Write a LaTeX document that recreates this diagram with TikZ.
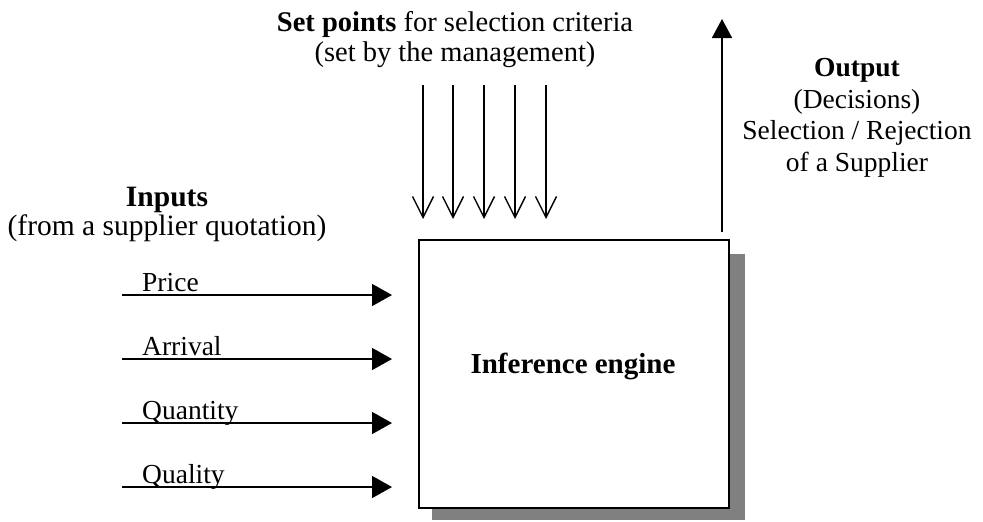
\documentclass[tikz,border=0pt]{standalone}
\usepackage{fontspec}
\setmainfont{Liberation Serif}
\usetikzlibrary{arrows.meta}
\begin{document}
\begin{tikzpicture}[x=1pt,y=-1pt,
  txt/.style={inner sep=0pt, font=\fontsize{27.5}{33}\selectfont},
  inarrow/.style={line width=1.6pt, -{Triangle[length=20pt,width=22pt]}},
  outarrow/.style={line width=1.6pt, -{Triangle[length=19pt,width=20pt]}},
  setarrow/.style={line width=1.4pt, -{Straight Barb[length=21pt,width=21pt,line width=1.4pt]}},
  shadowbox/.style={fill=black!50, inner sep=0pt, minimum width=313pt, minimum height=266pt, anchor=north west},
  enginebox/.style={draw, line width=2pt, fill=white, inner sep=0pt, minimum width=310pt, minimum height=268pt, anchor=north west}
]
\useasboundingbox (0,0) rectangle (983,522);
% box with shadow
\node[shadowbox] (shadow) at (432,254) {};
\node[enginebox] (engine) at (418,239) {};
\node[inner sep=0pt, anchor=base, font=\bfseries\fontsize{29}{34}\selectfont] (enginelabel) at (573,373) {Inference engine};
% set points
\node[inner sep=0pt, align=center, anchor=base, font={\fontsize{28.5}{30}\selectfont\lineskiplimit=-30pt}] (setpts) at (455,61) {\textbf{Set points} for selection criteria\\(set by the management)};
\foreach \i/\x in {1/423,2/453,3/484,4/515,5/546}{
  \coordinate (s\i) at (\x,85);
  \coordinate (t\i) at (\x,219);
  \draw[setarrow] (s\i) -- (t\i);
}
% output
\coordinate (o0) at (722,232);
\coordinate (o1) at (722,19);
\draw[outarrow] (o0) -- (o1);
\node[inner sep=0pt, align=center, anchor=base, font={\fontsize{27.5}{31.5}\selectfont\lineskiplimit=-30pt}] (outlbl) at (857,171) {\textbf{Output}\\(Decisions)\\Selection / Rejection\\of a Supplier};
% inputs
\node[inner sep=0pt, align=center, anchor=base, font={\fontsize{29.5}{28.5}\selectfont\lineskiplimit=-30pt}] (inlbl) at (167,235) {\textbf{Inputs}\\(from a supplier quotation)};
\foreach \i/\y/\t in {1/295/Price,2/359/Arrival,3/423/Quantity,4/487/Quality}{
  \coordinate (a\i) at (122,\y);
  \coordinate (b\i) at (392,\y);
  \draw[inarrow] (a\i) -- (b\i);
  \node[txt, anchor=base west] (l\i) at (142,\y-4) {\t};
}
\end{tikzpicture}
\end{document}
